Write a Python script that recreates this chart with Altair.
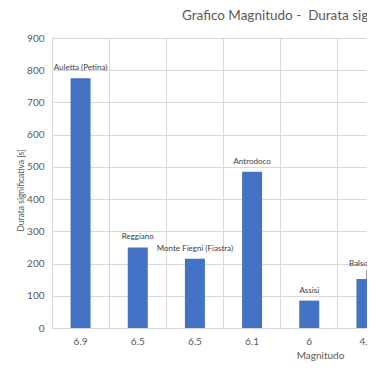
import json
import altair as alt
import pandas as pd

magnitudes = ["6.9", "6.5", "6.5", "6.1", "6", "", "4.4"]
durations = [775, 250, 215, 485, 85, None, 152]
places = ["Auletta (Petina)", "Reggiano", "Monte Fiegni (Fiastra)", "Antrodoco", "Assisi", "", "Balsorano"]

df = pd.DataFrame({
    "idx": list(range(len(magnitudes))),
    "mag": magnitudes,
    "dur": durations,
    "place": places,
})

FONT = "Lato"
GREY = "#595959"
GRID = "#d9d9d9"

label_expr = f"{json.dumps(magnitudes)}[datum.value]"

x = alt.X(
    "idx:O",
    scale=alt.Scale(paddingInner=0, paddingOuter=0, range=[0, 343]),
    axis=alt.Axis(
        labelExpr=label_expr, labelAngle=0, grid=True, gridColor=GRID,
        bandPosition=0, ticks=False, domainColor=GRID, labelPadding=8,
        labelFontSize=10, labelColor=GREY, labelFont=FONT,
        title="Magnitudo", titleFont=FONT, titleFontSize=10, titleColor=GREY,
        titleFontWeight="normal", titleX=268, titleY=27, titleAlign="center",
        titleBaseline="middle",
    ),
)
y = alt.Y(
    "dur:Q",
    scale=alt.Scale(domain=[0, 900]),
    axis=alt.Axis(
        values=list(range(0, 901, 100)), domain=False, ticks=False,
        gridColor=GRID, labelPadding=8, labelFontSize=10, labelColor=GREY,
        labelFont=FONT, title="Durata significativa [s]", titleFont=FONT,
        titleFontSize=8.5, titleColor=GREY, titleFontWeight="normal",
        titleX=-32, titleY=152, titleAngle=-90, titleAlign="center",
        titleBaseline="middle",
    ),
)

base = alt.Chart(df).transform_filter("isValid(datum.dur)")

bars = base.mark_bar(color="#4472C4", size=20).encode(x=x, y=y)
labels = (
    base.transform_filter("datum.place != 'Balsorano'")
    .mark_text(dy=-10, fontSize=8, font=FONT, color="#404040")
    .encode(x=x, y=y, text="place:N")
)
moved_label = (
    base.transform_filter("datum.place == 'Balsorano'")
    .mark_text(dy=-15, fontSize=8, font=FONT, color="#404040")
    .encode(x=x, y=y, text="place:N")
)
leader = (
    base.transform_filter("datum.place == 'Balsorano'")
    .mark_rule(color="#8c8c8c", strokeWidth=0.8, y2Offset=-9)
    .encode(x=x, y=y, y2=alt.Y2("dur:Q"))
)

chart = (
    alt.layer(bars, leader, labels, moved_label)
    .properties(
        width=315,
        height=290,
        padding={"left": 44, "top": 30, "right": 0, "bottom": 37},
        autosize=alt.AutoSizeParams(type="none"),
        title=alt.Title(
            "Grafico Magnitudo -\u00a0 Durata significativa",
            anchor="start", frame="group", dx=130, fontSize=13.5, font=FONT,
            color=GREY, fontWeight="normal", offset=0, baseline="alphabetic",
        ),
    )
    .configure_view(stroke=None)
    .configure(background="white")
)

chart.save("out.html", embed_options={"renderer": "svg", "actions": False})
